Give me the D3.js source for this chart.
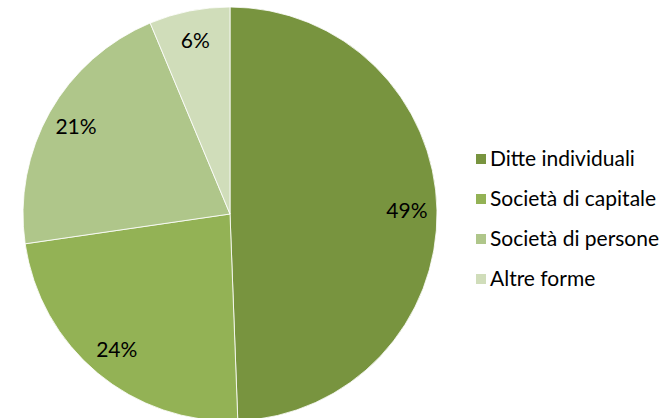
<!DOCTYPE html>
<html><head><meta charset="utf-8">
<script src="https://cdn.jsdelivr.net/npm/d3@7"></script>
<style>body{margin:0;background:#fff}svg{display:block}text{font-family:Lato,"Open Sans",sans-serif}</style>
</head><body>
<svg id="c" width="669" height="418"></svg>
<script>
const categories = ["Ditte individuali","Società di capitale","Società di persone","Altre forme"];
const values = [49.4, 23.3, 21.0, 6.3];
const labels = ["49%","24%","21%","6%"];
const colors = ["#78943F","#93B255","#AFC68A","#D0DDBA"];

const svg = d3.select("#c");
const cx = 230, cy = 214, R = 207, rLab = 177;
const pie = d3.pie().sort(null).value(d => d)(values);
const arc = d3.arc().innerRadius(0).outerRadius(R);
const labArc = d3.arc().innerRadius(rLab).outerRadius(rLab);
const g = svg.append("g").attr("transform", `translate(${cx},${cy})`);
g.selectAll("path").data(pie).join("path")
  .attr("d", arc).attr("fill", (d,i) => colors[i])
  .attr("stroke", "#fff").attr("stroke-width", 0.8);
g.selectAll("text").data(pie).join("text")
  .attr("transform", d => `translate(${labArc.centroid(d)})`)
  .attr("text-anchor", "middle").attr("dy", "0.35em")
  .attr("font-size", 21).attr("fill", "#000")
  .text((d,i) => labels[i]);

const y = d3.scaleBand().domain(categories).range([139, 299]);
const lg = svg.append("g");
const row = lg.selectAll("g").data(categories).join("g")
  .attr("transform", d => `translate(476,${y(d) + y.bandwidth()/2})`);
row.append("rect").attr("x", 0).attr("y", -5).attr("width", 10).attr("height", 10)
  .attr("fill", (d,i) => colors[i]);
row.append("text").attr("x", 14).attr("dy", "0.35em").attr("font-size", 21)
  .attr("fill", "#000").text(d => d);
</script>
</body></html>
